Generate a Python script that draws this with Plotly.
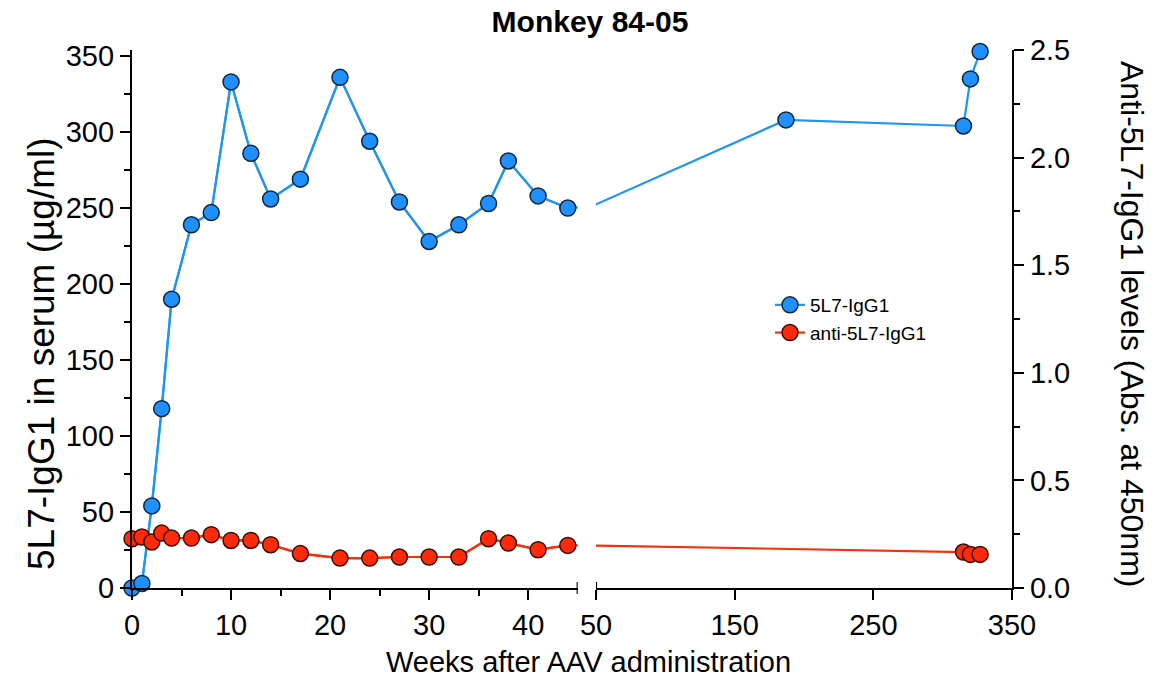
import plotly.graph_objects as go

# ---- data ----
weeks_igg1 = [0, 1, 2, 3, 4, 6, 8, 10, 12, 14, 17, 21, 24, 27, 30, 33, 36, 38, 41, 44, 187, 315, 320, 327]
igg1_ugml = [0, 3, 54, 118, 190, 239, 247, 333, 286, 256, 269, 336, 294, 254, 228, 239, 253, 281, 258, 250, 308, 304, 335, 353]
weeks_anti = [0, 1, 2, 3, 4, 6, 8, 10, 12, 14, 17, 21, 24, 27, 30, 33, 36, 38, 41, 44, 315, 320, 327]
anti_abs = [0.229, 0.237, 0.214, 0.255, 0.232, 0.232, 0.248, 0.221, 0.221, 0.201, 0.160, 0.139, 0.139,
            0.144, 0.144, 0.144, 0.229, 0.209, 0.178, 0.198, 0.167, 0.156, 0.156]

left_range = [0, 45]
right_range = [50, 350]
left_ticks = [0, 10, 20, 30, 40]
left_minor = [5, 15, 25, 35]
right_ticks = [50, 150, 250, 350]
y1_ticks = [0, 50, 100, 150, 200, 250, 300, 350]
y2_ticks = [0.0, 0.5, 1.0, 1.5, 2.0, 2.5]

BLUE = "#1E90FF"
BLUE_LINE = "#1E96F0"
RED = "#FF2A0A"
RED_LINE = "#F5300A"
FONT = "Arial, Liberation Sans, sans-serif"


def in_range(xs, ys, r):
    pts = [(x, y) for x, y in zip(xs, ys) if r[0] <= x <= r[1]]
    return [p[0] for p in pts], [p[1] for p in pts]


fig = go.Figure()

series = [
    ("5L7-IgG1", weeks_igg1, igg1_ugml, BLUE, BLUE_LINE, "#12263a", "y"),
    ("anti-5L7-IgG1", weeks_anti, anti_abs, RED, RED_LINE, "#3a0e05", "y2"),
]

for name, xs, ys, fill, lc, edge, ya in series:
    for xa, rng, first in (("x", left_range, True), ("x2", right_range, False)):
        # connecting lines (clipped to each segment)
        fig.add_trace(go.Scatter(x=xs, y=ys, xaxis=xa, yaxis=ya, mode="lines",
                                 line=dict(color=lc, width=2.2), showlegend=False,
                                 hoverinfo="skip"))
        mx, my = in_range(xs, ys, rng)
        fig.add_trace(go.Scatter(x=mx, y=my, xaxis=xa, yaxis=ya,
                                 mode="lines+markers" if first else "markers",
                                 name=name, showlegend=first, cliponaxis=False,
                                 line=dict(color=lc, width=2.2),
                                 marker=dict(size=16, color=fill, line=dict(color=edge, width=1.5))))

axis_common = dict(showline=True, linecolor="black", linewidth=2.2, ticks="outside",
                   tickcolor="black", tickwidth=2.2, ticklen=10, showgrid=False, zeroline=False,
                   tickfont=dict(family=FONT, size=29, color="black"))

PH = 538.0
d_left_end = (577.7 - 132) / 880
d_right_start = (596 - 132) / 880

fig.update_layout(
    width=1153, height=681,
    margin=dict(l=132, r=141, t=50, b=93),
    paper_bgcolor="white", plot_bgcolor="white",
    font=dict(family=FONT, color="black"),
    title=dict(text="<b>Monkey 84-05</b>", x=590 / 1153, xanchor="center", y=1 - 21 / 681,
               yanchor="middle", font=dict(family=FONT, size=30, color="black")),
    xaxis=dict(domain=[0, d_left_end], range=left_range, tickvals=left_ticks, anchor="y",
               minor=dict(tickvals=left_minor, ticks="outside", ticklen=6, tickwidth=2.2, tickcolor="black"),
               **axis_common),
    xaxis2=dict(domain=[d_right_start, 1], range=right_range, tickvals=right_ticks, anchor="y",
                **axis_common),
    yaxis=dict(domain=[0, 1], range=[0, 354], tickvals=y1_ticks, anchor="x",
               minor=dict(tickvals=[v + 25 for v in y1_ticks[:-1]], ticks="outside", ticklen=6,
                          tickwidth=2.2, tickcolor="black"),
               **axis_common),
    yaxis2=dict(domain=[0, 1], range=[0, 2.5], tickvals=y2_ticks, tickformat=".1f",
                overlaying="y", side="right", anchor="x2",
                minor=dict(tickvals=[v + 0.25 for v in y2_ticks[:-1]], ticks="outside", ticklen=6,
                           tickwidth=2.2, tickcolor="black"),
                **axis_common),
    legend=dict(x=(770 - 132) / 880, y=(588 - 286) / PH, xanchor="left", yanchor="top",
                font=dict(family=FONT, size=19, color="black"), bgcolor="rgba(0,0,0,0)",
                tracegroupgap=0, itemwidth=30),
    annotations=[
        dict(text="Weeks after AAV administration", xref="paper", yref="paper",
             x=(588 - 132) / 880, y=-(662 - 588) / PH, xanchor="center", yanchor="middle",
             showarrow=False, font=dict(family=FONT, size=29, color="black")),
        dict(text="5L7-IgG1 in serum (µg/ml)", xref="paper", yref="paper",
             x=(41 - 132) / 880, y=(588 - 354) / PH, xanchor="center", yanchor="middle",
             textangle=-90, showarrow=False, font=dict(family=FONT, size=37, color="black")),
        dict(text="Anti-5L7-IgG1 levels (Abs. at 450nm)", xref="paper", yref="paper",
             x=(1132 - 132) / 880, y=(588 - 324) / PH, xanchor="center", yanchor="middle",
             textangle=90, showarrow=False, font=dict(family=FONT, size=32, color="black")),
    ],
)

# break marks at the ends of the two x-axis segments (ticks crossing the axis line)
for xref, xv in (("x", left_range[1]), ("x2", right_range[0])):
    fig.add_shape(type="line", xref=xref, yref="paper", x0=xv, x1=xv,
                  y0=-6 / PH, y1=6 / PH, line=dict(color="black", width=2.2))

fig.write_html("out.html")
